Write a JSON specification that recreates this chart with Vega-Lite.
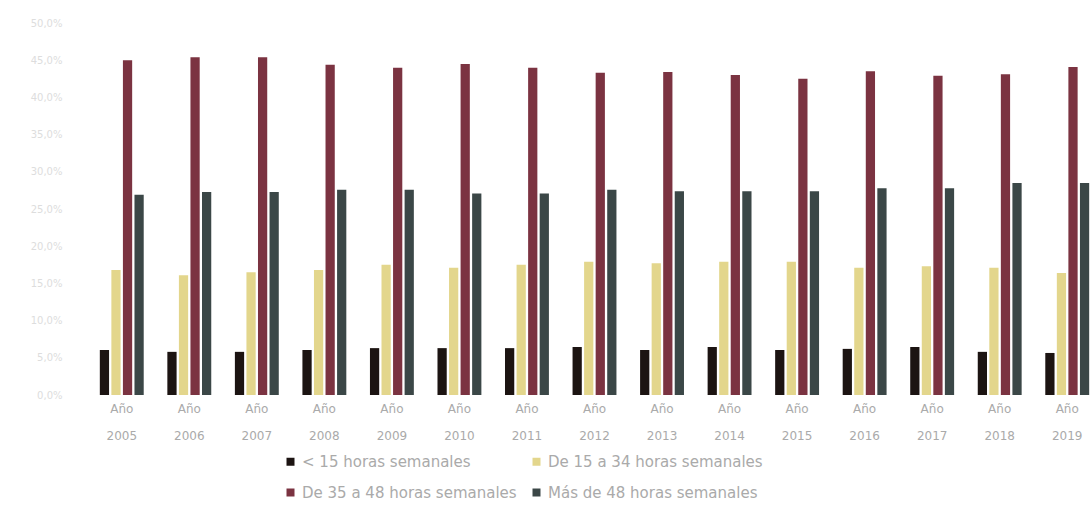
{
  "$schema": "https://vega.github.io/schema/vega-lite/v6.json",
  "autosize": {"type": "none"},
  "padding": {"left": 88, "top": 23, "right": 0, "bottom": 132},
  "width": 1013,
  "height": 372,
  "background": "white",
  "config": {"view": {"stroke": null}, "font": "DejaVu Sans"},
  "data": {
    "values": [
      {"anio": "2005", "serie": "< 15 horas semanales", "valor": 6.05},
      {"anio": "2005", "serie": "De 15 a 34 horas semanales", "valor": 16.8},
      {"anio": "2005", "serie": "De 35 a 48 horas semanales", "valor": 45.0},
      {"anio": "2005", "serie": "Más de 48 horas semanales", "valor": 26.9},
      {"anio": "2006", "serie": "< 15 horas semanales", "valor": 5.8},
      {"anio": "2006", "serie": "De 15 a 34 horas semanales", "valor": 16.1},
      {"anio": "2006", "serie": "De 35 a 48 horas semanales", "valor": 45.4},
      {"anio": "2006", "serie": "Más de 48 horas semanales", "valor": 27.3},
      {"anio": "2007", "serie": "< 15 horas semanales", "valor": 5.8},
      {"anio": "2007", "serie": "De 15 a 34 horas semanales", "valor": 16.5},
      {"anio": "2007", "serie": "De 35 a 48 horas semanales", "valor": 45.4},
      {"anio": "2007", "serie": "Más de 48 horas semanales", "valor": 27.3},
      {"anio": "2008", "serie": "< 15 horas semanales", "valor": 6.05},
      {"anio": "2008", "serie": "De 15 a 34 horas semanales", "valor": 16.8},
      {"anio": "2008", "serie": "De 35 a 48 horas semanales", "valor": 44.4},
      {"anio": "2008", "serie": "Más de 48 horas semanales", "valor": 27.6},
      {"anio": "2009", "serie": "< 15 horas semanales", "valor": 6.3},
      {"anio": "2009", "serie": "De 15 a 34 horas semanales", "valor": 17.5},
      {"anio": "2009", "serie": "De 35 a 48 horas semanales", "valor": 44.0},
      {"anio": "2009", "serie": "Más de 48 horas semanales", "valor": 27.6},
      {"anio": "2010", "serie": "< 15 horas semanales", "valor": 6.3},
      {"anio": "2010", "serie": "De 15 a 34 horas semanales", "valor": 17.1},
      {"anio": "2010", "serie": "De 35 a 48 horas semanales", "valor": 44.5},
      {"anio": "2010", "serie": "Más de 48 horas semanales", "valor": 27.1},
      {"anio": "2011", "serie": "< 15 horas semanales", "valor": 6.3},
      {"anio": "2011", "serie": "De 15 a 34 horas semanales", "valor": 17.5},
      {"anio": "2011", "serie": "De 35 a 48 horas semanales", "valor": 44.0},
      {"anio": "2011", "serie": "Más de 48 horas semanales", "valor": 27.1},
      {"anio": "2012", "serie": "< 15 horas semanales", "valor": 6.45},
      {"anio": "2012", "serie": "De 15 a 34 horas semanales", "valor": 17.9},
      {"anio": "2012", "serie": "De 35 a 48 horas semanales", "valor": 43.3},
      {"anio": "2012", "serie": "Más de 48 horas semanales", "valor": 27.6},
      {"anio": "2013", "serie": "< 15 horas semanales", "valor": 6.05},
      {"anio": "2013", "serie": "De 15 a 34 horas semanales", "valor": 17.7},
      {"anio": "2013", "serie": "De 35 a 48 horas semanales", "valor": 43.4},
      {"anio": "2013", "serie": "Más de 48 horas semanales", "valor": 27.4},
      {"anio": "2014", "serie": "< 15 horas semanales", "valor": 6.45},
      {"anio": "2014", "serie": "De 15 a 34 horas semanales", "valor": 17.9},
      {"anio": "2014", "serie": "De 35 a 48 horas semanales", "valor": 43.0},
      {"anio": "2014", "serie": "Más de 48 horas semanales", "valor": 27.4},
      {"anio": "2015", "serie": "< 15 horas semanales", "valor": 6.05},
      {"anio": "2015", "serie": "De 15 a 34 horas semanales", "valor": 17.9},
      {"anio": "2015", "serie": "De 35 a 48 horas semanales", "valor": 42.5},
      {"anio": "2015", "serie": "Más de 48 horas semanales", "valor": 27.4},
      {"anio": "2016", "serie": "< 15 horas semanales", "valor": 6.2},
      {"anio": "2016", "serie": "De 15 a 34 horas semanales", "valor": 17.1},
      {"anio": "2016", "serie": "De 35 a 48 horas semanales", "valor": 43.5},
      {"anio": "2016", "serie": "Más de 48 horas semanales", "valor": 27.8},
      {"anio": "2017", "serie": "< 15 horas semanales", "valor": 6.45},
      {"anio": "2017", "serie": "De 15 a 34 horas semanales", "valor": 17.3},
      {"anio": "2017", "serie": "De 35 a 48 horas semanales", "valor": 42.9},
      {"anio": "2017", "serie": "Más de 48 horas semanales", "valor": 27.8},
      {"anio": "2018", "serie": "< 15 horas semanales", "valor": 5.8},
      {"anio": "2018", "serie": "De 15 a 34 horas semanales", "valor": 17.1},
      {"anio": "2018", "serie": "De 35 a 48 horas semanales", "valor": 43.1},
      {"anio": "2018", "serie": "Más de 48 horas semanales", "valor": 28.5},
      {"anio": "2019", "serie": "< 15 horas semanales", "valor": 5.65},
      {"anio": "2019", "serie": "De 15 a 34 horas semanales", "valor": 16.4},
      {"anio": "2019", "serie": "De 35 a 48 horas semanales", "valor": 44.1},
      {"anio": "2019", "serie": "Más de 48 horas semanales", "valor": 28.5}
    ]
  },
  "mark": {"type": "bar"},
  "encoding": {
    "x": {
      "field": "anio",
      "type": "nominal",
      "scale": {"paddingInner": 0.35, "paddingOuter": 0.175},
      "axis": {
        "title": null,
        "labelAngle": 0,
        "domain": false,
        "ticks": false,
        "labelExpr": "['Año', datum.label]",
        "labelColor": "#aaaaaa",
        "labelFontSize": 12,
        "labelLineHeight": 27,
        "labelPadding": 8
      }
    },
    "xOffset": {
      "field": "serie",
      "type": "nominal",
      "sort": ["< 15 horas semanales", "De 15 a 34 horas semanales", "De 35 a 48 horas semanales", "Más de 48 horas semanales"],
      "scale": {"paddingInner": 0.2}
    },
    "y": {
      "field": "valor",
      "type": "quantitative",
      "scale": {"domain": [0, 50]},
      "axis": {
        "title": null,
        "grid": false,
        "domain": false,
        "ticks": false,
        "values": [0, 5, 10, 15, 20, 25, 30, 35, 40, 45, 50],
        "labelExpr": "replace(format(datum.value, '.1f'), '.', ',') + '%'",
        "labelColor": "#dddddd",
        "labelFontSize": 10,
        "labelPadding": 26
      }
    },
    "color": {
      "field": "serie",
      "type": "nominal",
      "sort": ["< 15 horas semanales", "De 15 a 34 horas semanales", "De 35 a 48 horas semanales", "Más de 48 horas semanales"],
      "scale": {
        "domain": ["< 15 horas semanales", "De 15 a 34 horas semanales", "De 35 a 48 horas semanales", "Más de 48 horas semanales"],
        "range": ["#1c1412", "#e3d68c", "#7b3341", "#3b4747"]
      },
      "legend": {
        "title": null,
        "orient": "none",
        "legendX": 195,
        "legendY": 431,
        "columns": 2,
        "columnPadding": 12,
        "rowPadding": 15,
        "values": ["< 15 horas semanales", "De 35 a 48 horas semanales", "De 15 a 34 horas semanales", "Más de 48 horas semanales"],
        "symbolType": "square",
        "symbolSize": 64,
        "symbolStrokeWidth": 0,
        "labelFontSize": 15,
        "labelColor": "#aaaaaa",
        "labelLimit": 400
      }
    }
  }
}
